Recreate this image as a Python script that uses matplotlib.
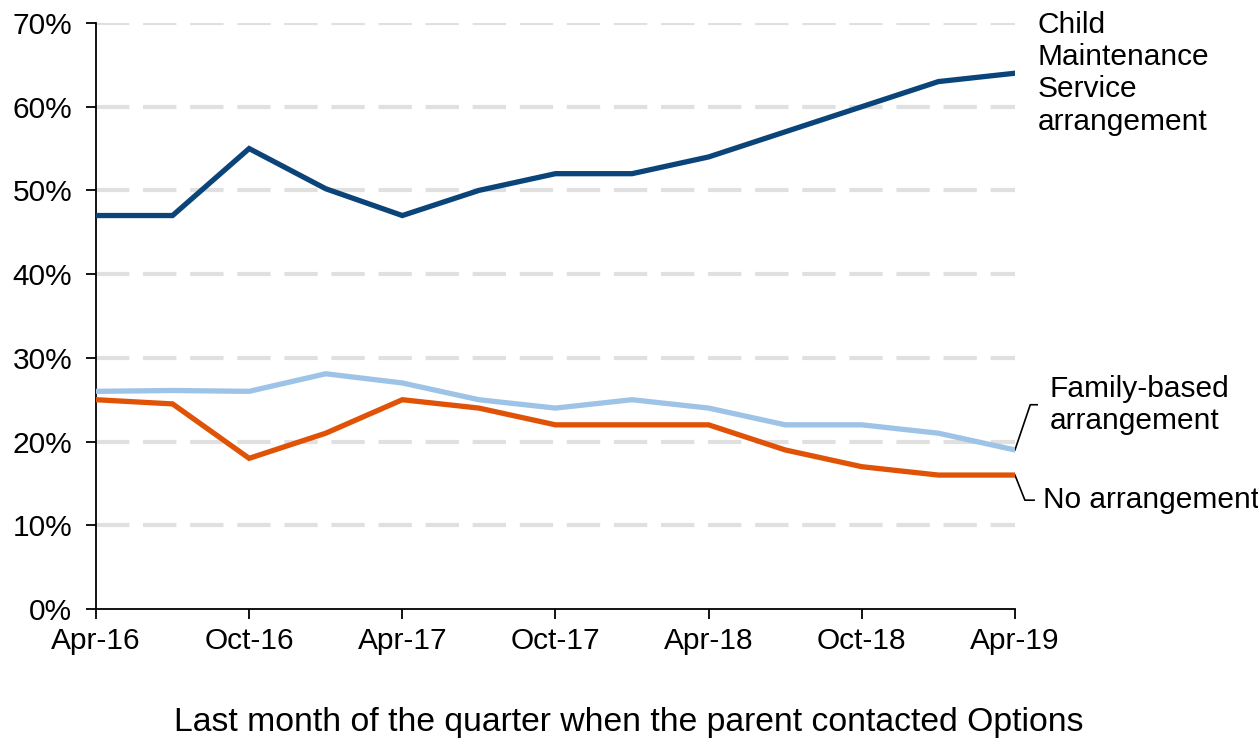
import matplotlib.pyplot as plt
import numpy as np

plt.rcParams['font.family'] = ['Liberation Sans', 'DejaVu Sans']

quarters = ['Apr-16', 'Jul-16', 'Oct-16', 'Jan-17', 'Apr-17', 'Jul-17', 'Oct-17',
            'Jan-18', 'Apr-18', 'Jul-18', 'Oct-18', 'Jan-19', 'Apr-19']
cms = [47, 47, 55, 50.2, 47, 50, 52, 52, 54, 57, 60, 63, 64]
family = [26, 26.1, 26, 28.1, 27, 25, 24, 25, 24, 22, 22, 21, 19]
none_arr = [25, 24.5, 18, 21, 25, 24, 22, 22, 22, 19, 17, 16, 16]

x = np.arange(len(quarters))
FS = 21.5

fig = plt.figure(figsize=(12.58, 7.39), dpi=100)
ax = fig.add_axes([0.0763, 0.1759, 0.7305, 0.793])

ax.plot(x, family, color='#9dc3e6', lw=3.8, solid_joinstyle='miter', zorder=3)
ax.plot(x, none_arr, color='#e05206', lw=3.8, solid_joinstyle='miter', zorder=3)
ax.plot(x, cms, color='#0b4478', lw=3.8, solid_joinstyle='miter', zorder=4)

ax.set_xlim(0, 12)
ax.set_ylim(0, 70)
ax.set_yticks(range(0, 71, 10))
ax.set_yticklabels([f'{v}%' for v in range(0, 71, 10)])
ax.set_xticks(x[::2])
ax.set_xticklabels(quarters[::2])
for v in range(10, 71, 10):
    ax.axhline(v, color='#e0e0e0', lw=3, dashes=(8, 3.3), zorder=1)

for s in ['top', 'right']:
    ax.spines[s].set_visible(False)
for s in ['left', 'bottom']:
    ax.spines[s].set_linewidth(1.3)
ax.tick_params(axis='both', labelsize=FS, width=1.3, length=7, direction='out')
ax.tick_params(axis='x', pad=6)
ax.tick_params(axis='y', pad=10)

fig.text(0.5, 1 - 731 / 739, 'Last month of the quarter when the parent contacted Options',
         fontsize=24.3, ha='center', va='baseline')

# series labels with leader lines
ax.text(12.3, 64, 'Child\nMaintenance\nService\narrangement', fontsize=FS,
        va='center', ha='left', linespacing=1.2, clip_on=False)
ax.plot([12, 12.2, 12.29], [19, 24.4, 24.4], color='black', lw=1.2, clip_on=False)
ax.text(12.45, 24.4, 'Family-based\narrangement', fontsize=FS, va='center',
        ha='left', linespacing=1.2, clip_on=False)
ax.plot([12, 12.13, 12.25], [16, 13, 13], color='black', lw=1.2, clip_on=False)
ax.text(12.36, 13, 'No arrangement', fontsize=FS, va='center', ha='left',
        clip_on=False)

fig.savefig('out.png', dpi=100)
